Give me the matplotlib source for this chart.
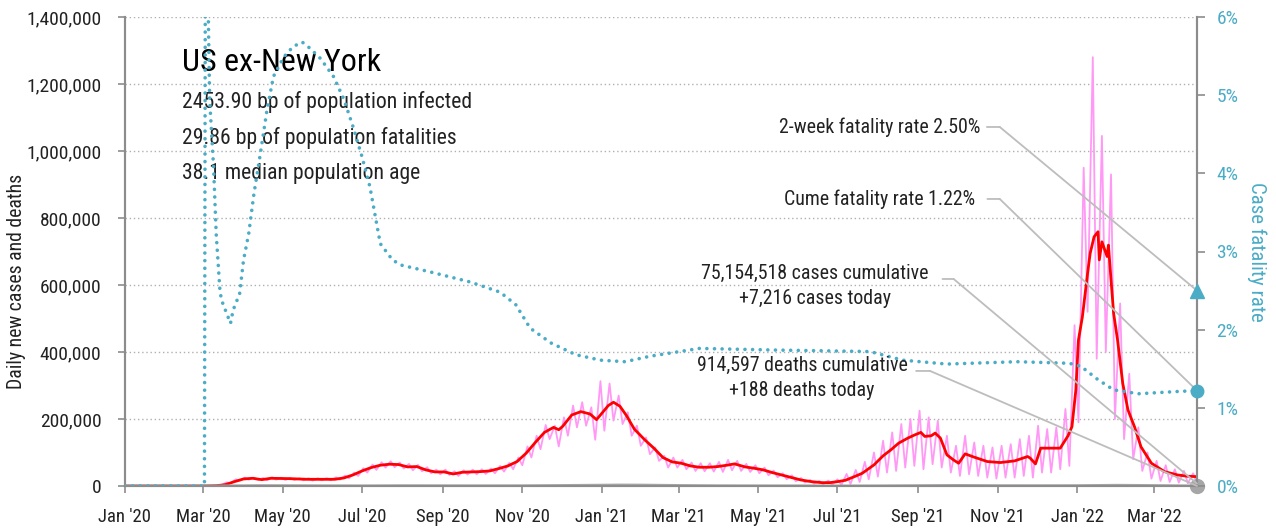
import matplotlib
matplotlib.use('Agg')
import matplotlib.pyplot as plt
import matplotlib.dates as mdates
import matplotlib.ticker as mticker
import numpy as np

plt.rcParams['font.family'] = ['Roboto Condensed', 'Liberation Sans Narrow', 'DejaVu Sans']

START = np.datetime64('2020-01-01')

# daily new cases (thousands): one high and one low reading per week, weeks counted from 2020-01-01
cases_hi = [0, 0, 0, 0, 0, 0, 0, 0, 0, 0.6,
            3, 11, 20, 25, 25, 24, 26, 25, 24, 23,
            23, 23, 23, 26, 31, 40, 53, 64, 71, 74,
            70, 66, 63, 56, 49, 49, 44, 47, 49, 50,
            52, 60, 69, 85, 118, 150, 182, 180, 205, 240,
            250, 235, 313, 306, 270, 220, 180, 145, 115, 90,
            85, 78, 70, 68, 68, 72, 78, 75, 66, 62,
            55, 46, 38, 32, 24, 18, 15, 16, 20, 36,
            48, 72, 100, 135, 160, 185, 200, 225, 205, 195,
            150, 120, 150, 130, 120, 115, 120, 125, 140, 150,
            180, 170, 175, 230, 480, 950, 1280, 1045, 930, 545,
            335, 175, 100, 75, 62, 50, 45, 38]
cases_lo = [0, 0, 0, 0, 0, 0, 0, 0, 0, 0.4,
            2, 8, 16, 19, 18, 17, 19, 18, 18, 17,
            16, 17, 17, 19, 23, 30, 40, 48, 55, 56,
            52, 47, 44, 38, 35, 33, 30, 34, 35, 36,
            38, 43, 50, 62, 85, 110, 140, 118, 150, 175,
            180, 138, 165, 195, 185, 150, 120, 95, 75, 55,
            55, 50, 45, 44, 43, 42, 47, 45, 42, 38,
            32, 26, 20, 14, 10, 7, 5, 4, 3, 6,
            12, 20, 28, 40, 45, 55, 60, 50, 65, 55,
            40, 30, 35, 30, 25, 22, 25, 25, 30, 25,
            40, 40, 50, 60, 190, 520, 380, 400, 200, 140,
            80, 45, 22, 15, 12, 10, 8, 7.216]

# 7-day average of new cases (thousands), days since 2020-01-01
avg_day = [0, 49, 63, 70, 77, 84, 91, 98, 105, 112, 126, 140, 161, 168, 175, 182,
           189, 196, 203, 210, 217, 224, 231, 238, 245, 252, 259, 266, 273, 280,
           287, 294, 301, 308, 315, 322, 329, 333, 336, 343, 350, 357, 362, 365,
           371, 375, 380, 385, 391, 399, 406, 413, 420, 427, 434, 441, 448, 455,
           462, 468, 476, 483, 490, 497, 504, 511, 519, 527, 535, 541, 547, 553,
           560, 566, 575, 582, 588, 594, 601, 606, 611, 614, 619, 622, 626, 631,
           636, 640, 645, 652, 662, 672, 683, 693, 695, 699, 703, 718, 724, 727,
           730, 732, 735, 739, 741, 744, 747, 748, 750, 754, 755, 757, 759, 762,
           766, 770, 775, 780, 788, 798, 808, 816, 823]
avg_val = [0, 0, 0.2, 0.8, 4, 13, 21, 23, 19, 23, 22, 20, 20, 24, 33, 45,
           55, 62, 65, 64, 57, 58, 48, 42, 42, 36, 41, 42, 43, 45,
           52, 60, 73, 98, 130, 160, 175, 168, 178, 212, 222, 215, 198, 212,
           240, 250, 238, 210, 170, 138, 113, 85, 72, 68, 60, 56, 56, 58,
           62, 66, 57, 53, 48, 40, 33, 26, 18, 13, 10, 10, 13, 17,
           28, 38, 63, 90, 108, 128, 143, 152, 160, 148, 150, 158, 143, 93,
           78, 68, 96, 86, 73, 70, 75, 88, 83, 66, 113, 113, 150, 177,
           287, 436, 505, 635, 695, 744, 759, 675, 729, 685, 719, 615, 515, 436,
           306, 227, 177, 117, 68, 43, 33, 29, 28]

# 7-day average of deaths (thousands)
death_day = [0, 60, 91, 105, 121, 152, 182, 213, 244, 274, 305, 335, 366, 380,
             397, 425, 456, 486, 517, 547, 578, 609, 639, 670, 700, 731, 762, 790, 823]
death_val = [0, 0, 0.8, 1.2, 1.0, 0.7, 0.5, 1.0, 0.8, 0.7, 0.8, 1.6, 2.6, 3.1,
             2.8, 1.7, 0.8, 0.6, 0.5, 0.25, 0.5, 1.2, 1.8, 1.1, 1.0, 1.2, 2.3, 1.5, 0.19]

# cumulative case fatality rate (%)
cfr_day = [0, 61, 62, 63, 65, 68, 70, 73, 75, 81, 83, 88, 91, 95, 99, 104, 109,
           114, 122, 129, 136, 142, 150, 160, 168, 175, 182, 188, 196, 205, 211,
           234, 265, 288, 300, 311, 327, 346, 365, 384, 403, 441, 497, 572, 597,
           631, 685, 725, 734, 747, 759, 778, 809, 823]
cfr_val = [0, 0, 10, 7, 4.94, 4.08, 3.23, 2.47, 2.34, 2.08, 2.25, 2.46, 2.89, 3.23,
           3.74, 4.26, 4.81, 5.24, 5.49, 5.62, 5.68, 5.6, 5.47, 5.24, 4.95, 4.6,
           4.21, 3.83, 3.1, 2.9, 2.83, 2.74, 2.61, 2.48, 2.32, 2.02, 1.83, 1.68,
           1.61, 1.59, 1.66, 1.76, 1.74, 1.72, 1.61, 1.56, 1.59, 1.57, 1.53, 1.36,
           1.23, 1.18, 1.21, 1.22]

two_week_cfr = 2.50
cume_cfr = 1.22
cases_today = 7216
deaths_today = 188

title = 'US ex-New York'
stats = ['2453.90 bp of population infected',
         '29.86 bp of population fatalities',
         '38.1 median population age']

PINK = '#ff99f5'
TEAL = '#4bacc6'
GRAY = '#bdbdbd'
TXT = '#222222'


def to_date(days):
    return START + np.asarray(days).astype('timedelta64[D]')


weeks = np.arange(len(cases_hi))
pink_day = np.empty(2 * len(weeks), dtype=int)
pink_day[0::2] = 7 * weeks + 1
pink_day[1::2] = 7 * weeks + 4
pink_val = np.empty(2 * len(weeks))
pink_val[0::2] = cases_hi
pink_val[1::2] = cases_lo

last = to_date(avg_day[-1])

fig = plt.figure(figsize=(12.76, 5.29), dpi=100)
ax = fig.add_axes([125 / 1276, 1 - 486 / 529, 1072 / 1276, 469 / 529])
ax2 = ax.twinx()

ax.plot(to_date(pink_day), pink_val * 1000, color=PINK, lw=1.3, zorder=2)
ax.plot(to_date(avg_day), np.array(avg_val) * 1000, color='#ff0000', lw=2, zorder=3)
ax.plot(to_date(death_day), np.array(death_val) * 1000, color='#a6a6a6', lw=2, zorder=3)

ax2.plot(to_date(cfr_day), cfr_val, color=TEAL, lw=2.6, ls=(0, (0.01, 2.1)),
         dash_capstyle='round', zorder=4)

ax.set_xlim(START, last)
ax.set_ylim(0, 1400000)
ax2.set_ylim(0, 6)

ax.yaxis.set_major_locator(mticker.MultipleLocator(200000))
ax.yaxis.set_major_formatter(mticker.FuncFormatter(lambda v, p: f'{v:,.0f}'))
ax2.yaxis.set_major_locator(mticker.MultipleLocator(1))
ax2.yaxis.set_major_formatter(mticker.FuncFormatter(lambda v, p: f'{v:.0f}%'))
ax.xaxis.set_major_locator(mdates.MonthLocator(bymonth=[1, 3, 5, 7, 9, 11]))
ax.xaxis.set_major_formatter(mdates.DateFormatter("%b '%y"))

ax.grid(axis='y', ls=(0, (1, 2)), color='#b0b0b0', lw=1)
ax.set_axisbelow(True)

for a in (ax, ax2):
    a.spines['top'].set_visible(False)
    for s in ('left', 'right', 'bottom'):
        a.spines[s].set_color('#8c8c8c')
        a.spines[s].set_linewidth(1.5)
ax.tick_params(axis='both', colors='#8c8c8c', labelcolor=TXT, length=5, width=1.2)
ax.tick_params(axis='y', labelsize=14, pad=12)
ax.tick_params(axis='x', labelsize=13.5, pad=11)
ax2.tick_params(axis='y', colors='#8c8c8c', labelcolor=TEAL, labelsize=14,
                length=6, width=1.2, pad=8)

ax.set_ylabel('Daily new cases and deaths', fontsize=14.2, color=TXT)
ax.yaxis.set_label_coords(-0.092, 0.437)
ax2.set_ylabel('Case fatality rate', fontsize=15, color=TEAL, rotation=270, labelpad=20)

ax.text(0.053, 0.902, title, transform=ax.transAxes, fontsize=23, color='black',
        va='center', ha='left')
for i, s in enumerate(stats):
    ax.text(0.053, 0.819 - i * 0.076, s, transform=ax.transAxes, fontsize=15.7,
            color=TXT, va='center', ha='left')

# end markers on the right spine
ax2.plot([last], [two_week_cfr], marker='^', ms=10, color=TEAL, clip_on=False, zorder=6)
ax2.plot([last], [cume_cfr], marker='o', ms=9, color=TEAL, clip_on=False, zorder=6)
ax.plot([last], [deaths_today], marker='o', ms=10, color='#a6a6a6', clip_on=False, zorder=6)

ann = dict(fontsize=14.3, color=TXT, va='center')
line = dict(arrowstyle='-', color=GRAY, lw=1.3, shrinkA=0, shrinkB=0)

notes = [
    (f'2-week fatality rate {two_week_cfr:.2f}%', 0.7976, 0.7655, 'right',
     (0.804, 0.816), ax2.transData, two_week_cfr),
    (f'Cume fatality rate {cume_cfr:.2f}%', 0.7929, 0.612, 'right',
     (0.8045, 0.816), ax2.transData, cume_cfr),
    (f'75,154,518 cases cumulative\n+{cases_today:,} cases today', 0.6437, 0.4264, 'center',
     (0.7626, 0.773), ax.transData, cases_today),
    (f'914,597 deaths cumulative\n+{deaths_today:,} deaths today', 0.6315, 0.2303, 'center',
     (0.738, 0.751), ax.transData, deaths_today),
]
for txt, tx, ty, ha, (s0, s1), trans, val in notes:
    ax2.text(tx, ty, txt, transform=ax.transAxes, ha=ha, multialignment='center',
             linespacing=1.45, zorder=7, **ann)
    stub_y = ty if ha == 'right' else ty + 0.015
    ax2.annotate('', xy=(s1, stub_y), xycoords=ax.transAxes, xytext=(s0, stub_y),
                 textcoords=ax.transAxes, arrowprops=line, zorder=5)
    ax2.annotate('', xy=(mdates.date2num(last), val), xycoords=trans,
                 xytext=(s1, stub_y), textcoords=ax.transAxes, arrowprops=line, zorder=5)

fig.savefig('out.png', dpi=100)
